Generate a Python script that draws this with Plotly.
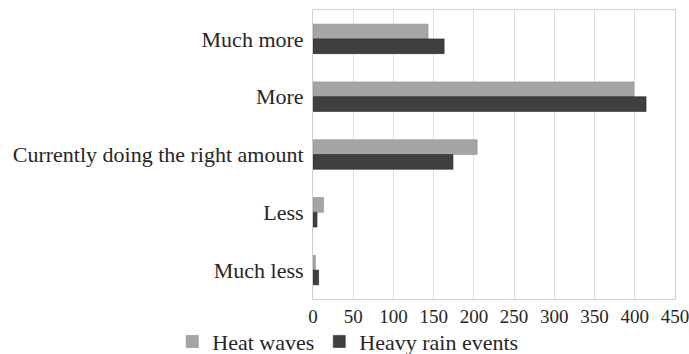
import plotly.graph_objects as go

categories = ["Much more", "More", "Currently doing the right amount", "Less", "Much less"]
heat_waves = [143, 399, 204, 13, 3]
heavy_rain = [163, 414, 174, 5, 7]
x_ticks = [0, 50, 100, 150, 200, 250, 300, 350, 400, 450]

font = dict(family="Liberation Serif, Times New Roman, serif", size=22, color="#262626")

fig = go.Figure()
fig.add_trace(go.Bar(
    y=categories, x=heat_waves, orientation="h", name="Heat waves",
    marker=dict(color="#a5a5a5", line=dict(color="#8c8c8c", width=0.6)),
))
fig.add_trace(go.Bar(
    y=categories, x=heavy_rain, orientation="h", name="Heavy rain events",
    marker=dict(color="#3f3f3f", line=dict(color="#2a2a2a", width=0.6)),
))

fig.update_layout(
    width=689, height=354,
    margin=dict(l=313, r=14, t=10, b=55, autoexpand=False),
    paper_bgcolor="white", plot_bgcolor="white",
    font=font,
    barmode="group", bargap=0.49, bargroupgap=0,
    showlegend=True,
    legend=dict(orientation="h", xref="container", yref="container",
                x=0.25, xanchor="left", y=0.035, yanchor="middle",
                font=dict(size=22), itemwidth=30, traceorder="normal",
                tracegroupgap=0, bgcolor="rgba(0,0,0,0)"),
)
fig.update_xaxes(
    range=[0, 450], tickvals=x_ticks, ticktext=[str(v) for v in x_ticks],
    tickfont=dict(size=19), ticklabeloverflow="allow",
    showgrid=True, gridcolor="#e0e0e0", gridwidth=1,
    showline=True, linecolor="#cfcfcf", mirror=True, zeroline=False,
    ticks="", automargin=False,
)
fig.update_yaxes(
    categoryorder="array", categoryarray=categories, autorange="reversed",
    showline=True, linecolor="#cfcfcf", mirror=True,
    ticks="outside", ticklen=4, tickcolor="rgba(0,0,0,0)", automargin=False,
)

fig.write_html("out.html")
